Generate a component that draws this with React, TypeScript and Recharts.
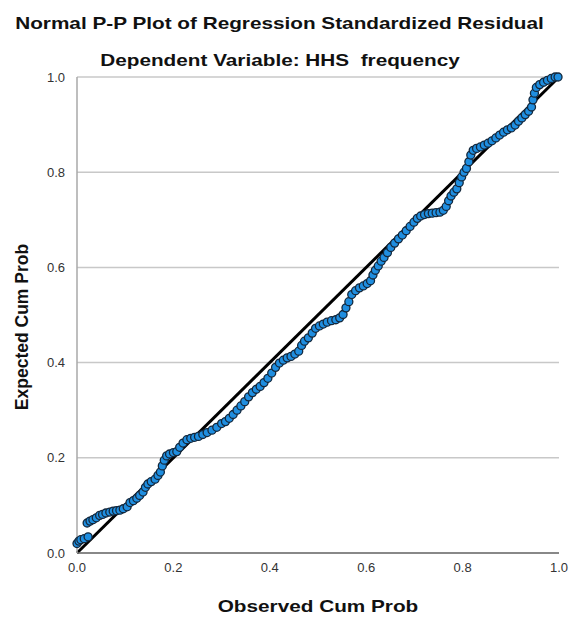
import {
  CartesianGrid,
  ReferenceLine,
  Scatter,
  ScatterChart,
  XAxis,
  YAxis,
} from "recharts";

const observedCumProb = [
  0.0, 0.004, 0.008, 0.015, 0.023, 0.021, 0.027, 0.033, 0.04, 0.047, 0.053, 0.06,
  0.068, 0.075, 0.082, 0.089, 0.096, 0.104, 0.11, 0.117, 0.124, 0.13, 0.137, 0.142,
  0.147, 0.154, 0.162, 0.168, 0.173, 0.177, 0.181, 0.186, 0.192, 0.2, 0.207, 0.213,
  0.22, 0.228, 0.236, 0.244, 0.252, 0.261, 0.27, 0.28, 0.29, 0.3, 0.308, 0.316,
  0.324, 0.332, 0.34, 0.348, 0.356, 0.364, 0.372, 0.38, 0.388, 0.396, 0.404, 0.412,
  0.42, 0.428, 0.436, 0.444, 0.452, 0.46, 0.466, 0.472, 0.48, 0.488, 0.495, 0.503,
  0.511, 0.519, 0.528, 0.537, 0.545, 0.552, 0.558, 0.564, 0.57, 0.578, 0.586, 0.594,
  0.602, 0.609, 0.614, 0.619, 0.625, 0.631, 0.637, 0.644, 0.651, 0.659, 0.667, 0.675,
  0.683, 0.691, 0.699, 0.706, 0.713, 0.721, 0.729, 0.737, 0.745, 0.753, 0.76, 0.766,
  0.771, 0.776, 0.782, 0.788, 0.793, 0.798, 0.803, 0.808, 0.813, 0.817, 0.822, 0.829,
  0.837, 0.845, 0.853, 0.861, 0.869, 0.877, 0.885, 0.893, 0.901, 0.909, 0.916, 0.923,
  0.93, 0.937, 0.943, 0.946, 0.949, 0.953, 0.96, 0.968, 0.976, 0.984, 0.992, 0.998,
];

const expectedCumProb = [
  0.02, 0.025, 0.028, 0.03, 0.034, 0.063, 0.067, 0.07, 0.074, 0.079, 0.081, 0.084,
  0.086, 0.088, 0.089, 0.09, 0.093, 0.097, 0.106, 0.11, 0.115, 0.121, 0.128, 0.138,
  0.145, 0.15, 0.155, 0.163, 0.17, 0.183, 0.195, 0.204, 0.208, 0.211, 0.213, 0.222,
  0.231, 0.238, 0.241, 0.243, 0.245, 0.249, 0.253, 0.258, 0.264, 0.272, 0.276, 0.283,
  0.291, 0.3, 0.309, 0.318, 0.328, 0.337, 0.344, 0.35, 0.358, 0.367, 0.378, 0.39,
  0.399, 0.405, 0.41, 0.413, 0.418, 0.424, 0.436, 0.445, 0.452, 0.462, 0.472, 0.477,
  0.481, 0.485, 0.488, 0.49, 0.494, 0.501, 0.515, 0.528, 0.543, 0.551, 0.557, 0.561,
  0.566, 0.572, 0.584, 0.594, 0.603, 0.613, 0.621, 0.631, 0.642, 0.651, 0.66, 0.668,
  0.677, 0.686, 0.695, 0.703, 0.708, 0.711, 0.713, 0.714, 0.715, 0.716, 0.72, 0.728,
  0.74, 0.75, 0.758, 0.765, 0.778, 0.79, 0.8, 0.808, 0.822, 0.836, 0.846, 0.85,
  0.853, 0.857, 0.861, 0.866, 0.872, 0.878, 0.884, 0.889, 0.893, 0.899, 0.907, 0.914,
  0.921, 0.928, 0.937, 0.952, 0.966, 0.978, 0.984, 0.989, 0.993, 0.997, 1.0, 1.0,
];

const axisTicks = [0, 0.2, 0.4, 0.6, 0.8, 1.0];

const points = observedCumProb.map((x, i) => ({ x, y: expectedCumProb[i] }));

const font = "Arial, 'Liberation Sans', Helvetica, sans-serif";

// the source image is a little wide, so horizontal text gets stretched
const wideText = {
  position: "absolute" as const,
  textAlign: "center" as const,
  fontSize: 17,
  fontWeight: "bold" as const,
  color: "#111",
  whiteSpace: "pre" as const,
  transform: "scaleX(1.22)",
};

function Dot(props: any) {
  const { cx, cy } = props;
  return (
    <circle cx={cx} cy={cy} r={4} fill="#1f8ee0" stroke="#14283c" strokeWidth={1.3} />
  );
}

export default function App() {
  return (
    <div
      style={{
        position: "absolute",
        left: 0,
        top: 0,
        width: 569,
        height: 618,
        background: "#fff",
        fontFamily: font,
      }}
    >
      <div style={{ ...wideText, left: 0, width: 559, top: 14 }}>
        Normal P-P Plot of Regression Standardized Residual
      </div>
      <div style={{ ...wideText, left: 0, width: 560, top: 51 }}>
        Dependent Variable: HHS  frequency
      </div>
      <div
        style={{
          position: "absolute",
          left: 22,
          top: 327,
          transform: "translate(-50%, -50%) rotate(-90deg)",
          fontSize: 17.5,
          fontWeight: "bold",
          color: "#111",
          whiteSpace: "nowrap",
        }}
      >
        Expected Cum Prob
      </div>
      <div style={{ ...wideText, left: 0, width: 636, top: 597 }}>
        Observed Cum Prob
      </div>
      <ScatterChart
        width={569}
        height={618}
        margin={{ top: 77, right: 10, bottom: 35, left: 0 }}
        style={{ position: "absolute", left: 0, top: 0 }}
      >
        <CartesianGrid vertical={false} stroke="#c8c8c8" strokeWidth={1.5} />
        <XAxis
          type="number"
          dataKey="x"
          domain={[0, 1]}
          ticks={axisTicks}
          tickFormatter={(v: number) => v.toFixed(1)}
          height={30}
          tickLine={false}
          axisLine={{ stroke: "#6e6e6e", strokeWidth: 1.5 }}
          tick={{ fill: "#333", fontSize: 13, fontFamily: font }}
          tickMargin={4}
        />
        <YAxis
          type="number"
          dataKey="y"
          domain={[0, 1]}
          ticks={axisTicks}
          tickFormatter={(v: number) => v.toFixed(1)}
          width={77}
          tickLine={false}
          axisLine={{ stroke: "#a8a8a8", strokeWidth: 1.5 }}
          tick={{ fill: "#333", fontSize: 13, fontFamily: font }}
          tickMargin={6}
        />
        <Scatter data={points} shape={Dot} isAnimationActive={false} />
        <ReferenceLine
          segment={[
            { x: 0, y: 0 },
            { x: 1, y: 1 },
          ]}
          stroke="#000"
          strokeWidth={3}
        />
      </ScatterChart>
    </div>
  );
}
